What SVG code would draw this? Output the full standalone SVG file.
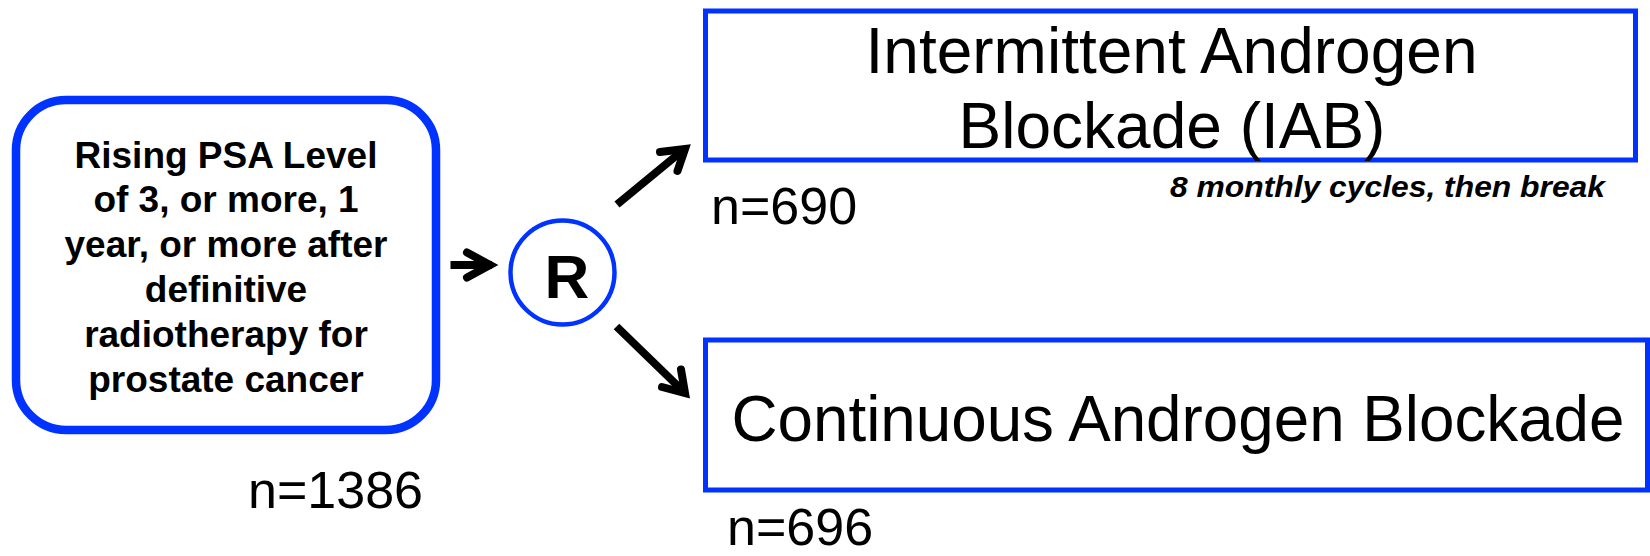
<svg xmlns="http://www.w3.org/2000/svg" width="1650" height="556" viewBox="0 0 1650 556">
<style>
.box{fill:#ffffff;stroke:#0033ff}
.lbl{font-family:"Liberation Sans",Arial,sans-serif;fill:#000}
.b{font-weight:bold}
.big{font-size:64px}
.n{font-size:52px}
.conn{fill:none;stroke:#000;stroke-width:8}
</style>
<rect width="1650" height="556" fill="#ffffff"/>
<g id="start">
<rect class="box" x="16" y="100" width="420" height="330" rx="50" ry="50" stroke-width="8.5"/>
<g class="lbl b" font-size="37" text-anchor="middle">
<text x="226" y="167.5">Rising PSA Level</text>
<text x="226" y="212.3">of 3, or more, 1</text>
<text x="226" y="257.1">year, or more after</text>
<text x="226" y="301.9">definitive</text>
<text x="226" y="346.7">radiotherapy for</text>
<text x="226" y="391.5">prostate cancer</text>
</g>
<text class="lbl n" x="248" y="508">n=1386</text>
</g>
<g id="randomize">
<circle class="box" cx="562.5" cy="272.5" r="52" stroke-width="4.5"/>
<text class="lbl b" x="567" y="298" font-size="62" text-anchor="middle">R</text>
</g>
<g id="iab">
<rect class="box" x="705.5" y="11" width="930" height="149" stroke-width="5"/>
<text class="lbl big" x="1171.5" y="72.7" text-anchor="middle">Intermittent Androgen</text>
<text class="lbl big" x="1172" y="147.7" text-anchor="middle">Blockade (IAB)</text>
<text class="lbl b" x="1170" y="197" font-size="30" font-style="italic" textLength="435" lengthAdjust="spacingAndGlyphs">8 monthly cycles, then break</text>
<text class="lbl n" x="711" y="224">n=690</text>
</g>
<g id="cab">
<rect class="box" x="705.5" y="340" width="942" height="150" stroke-width="5"/>
<text class="lbl big" x="731.5" y="441" textLength="893" lengthAdjust="spacingAndGlyphs">Continuous Androgen Blockade</text>
<text class="lbl n" x="727" y="544.5">n=696</text>
</g>
<g id="connectors">
<line class="conn" x1="450.5" y1="265" x2="492" y2="265"/>
<polyline class="conn" points="467,252.5 490,265 467,277.5" stroke-linecap="round" stroke-linejoin="miter"/>
<line class="conn" x1="617" y1="204.5" x2="682" y2="151"/>
<polyline class="conn" points="660,152 685,149 677.5,171" stroke-linecap="round" stroke-linejoin="miter"/>
<line class="conn" x1="616.5" y1="326.5" x2="682" y2="390"/>
<polyline class="conn" points="662,387 685,393 681,369.5" stroke-linecap="round" stroke-linejoin="miter"/>
</g>
</svg>
